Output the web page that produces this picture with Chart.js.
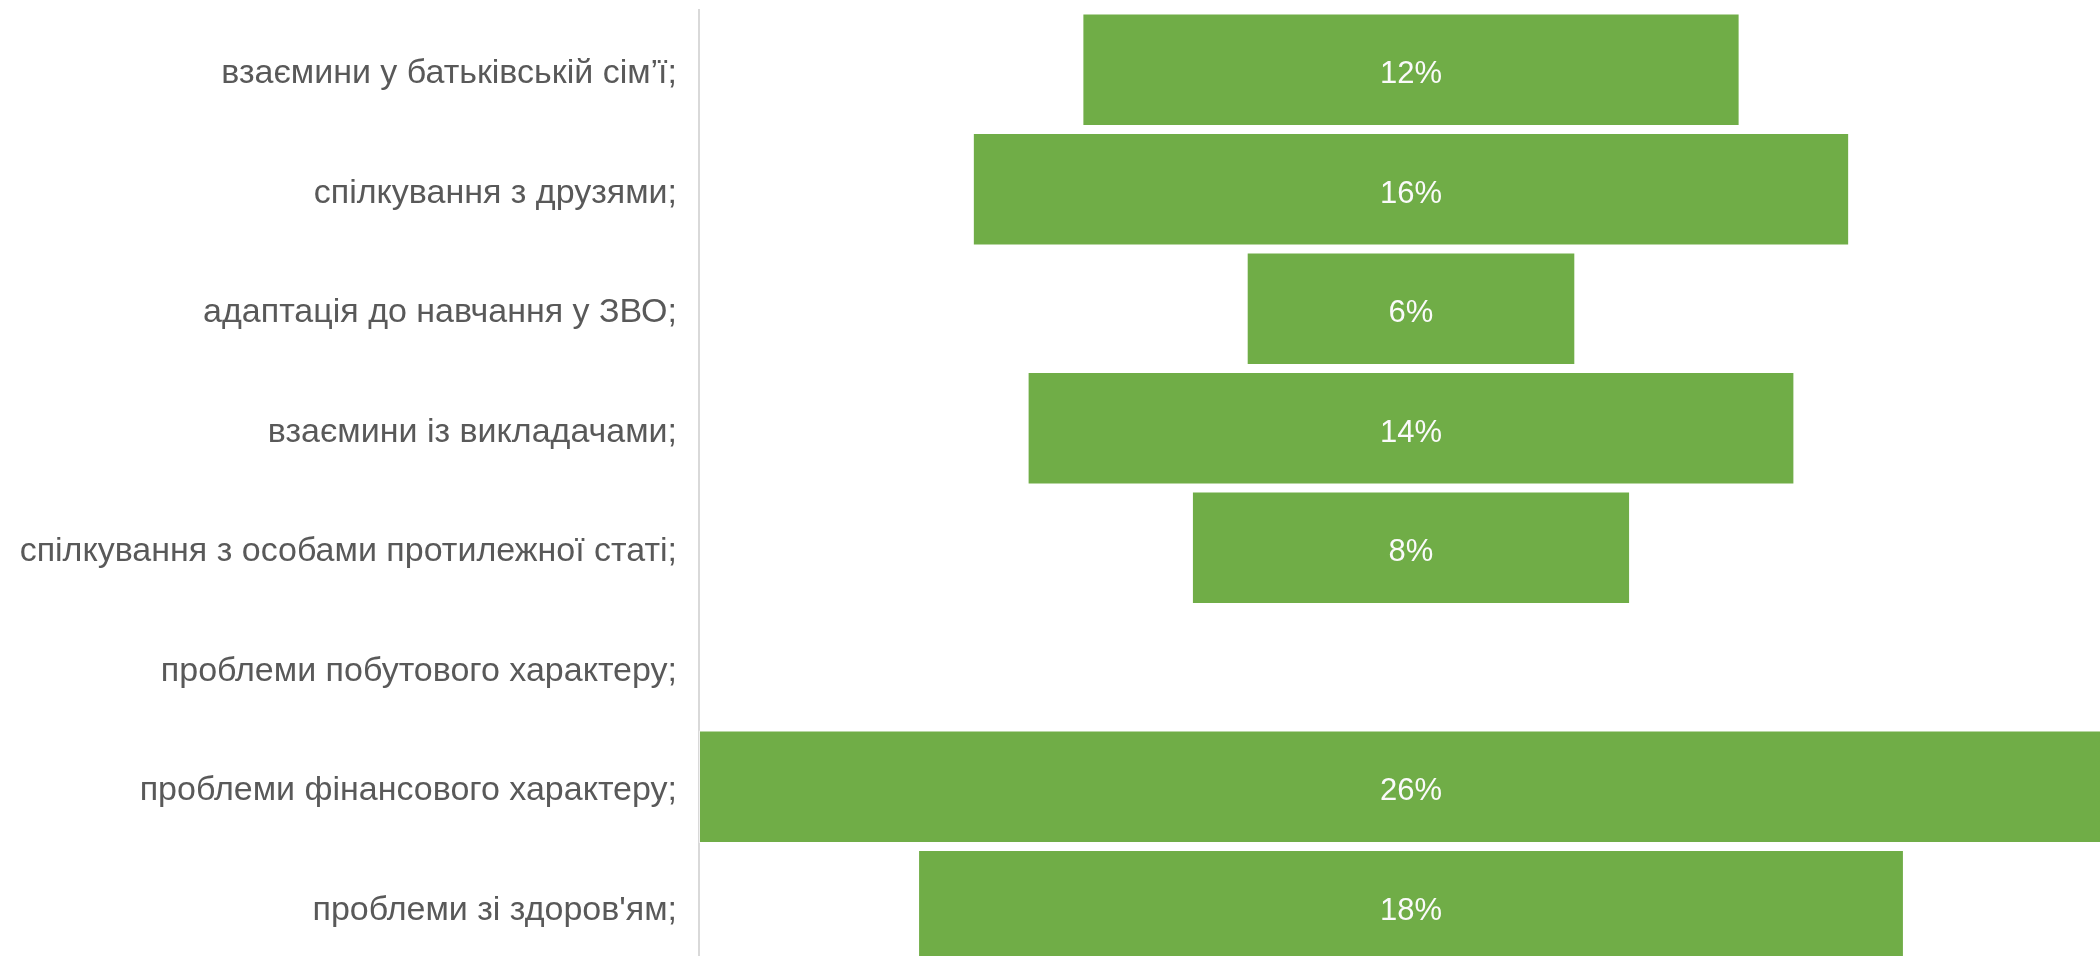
<!DOCTYPE html>
<html>
<head>
<meta charset="utf-8">
<script src="https://cdn.jsdelivr.net/npm/chart.js@4"></script>
<style>
  html, body { margin: 0; padding: 0; background: #fff; overflow: hidden; }
  #wrap { width: 2123px; height: 966px; }
</style>
</head>
<body>
<div id="wrap"><canvas id="funnel"></canvas></div>
<script>
// funnel chart data (percent)
const categories = [
  'взаємини у батьківській сім’ї;',
  'спілкування з друзями;',
  'адаптація до навчання у ЗВО;',
  'взаємини із викладачами;',
  'спілкування з особами протилежної статі;',
  'проблеми побутового характеру;',
  'проблеми фінансового характеру;',
  'проблеми зі здоров\'ям;'
];
const shares = [12, 16, 6, 14, 8, 0, 26, 18];
const barColor = '#70AD47';

// centre each bar around zero so it looks like a funnel
const spans = shares.map(v => [-v / 2, v / 2]);

const centerLabels = {
  id: 'centerLabels',
  afterDatasetsDraw(chart) {
    const c = chart.ctx;
    const meta = chart.getDatasetMeta(0);
    c.save();
    c.fillStyle = '#fafafa';
    c.font = '31px "Liberation Sans", sans-serif';
    c.textAlign = 'center';
    c.textBaseline = 'middle';
    meta.data.forEach((bar, i) => {
      if (!shares[i]) return;
      c.fillText(shares[i] + '%', (bar.base + bar.x) / 2, bar.y + 5);
    });
    c.restore();
  }
};

new Chart(document.getElementById('funnel'), {
  type: 'bar',
  data: {
    labels: categories,
    datasets: [{
      data: spans,
      backgroundColor: barColor,
      borderColor: 'rgba(255,255,255,0.6)',
      borderWidth: 1,
      borderSkipped: false,
      categoryPercentage: 0.943,
      barPercentage: 1
    }]
  },
  options: {
    indexAxis: 'y',
    responsive: true,
    maintainAspectRatio: false,
    animation: false,
    layout: { padding: { top: 10, left: 0, right: 0, bottom: 0 } },
    plugins: { legend: { display: false }, tooltip: { enabled: false } },
    scales: {
      x: { display: false, min: -13, max: 13 },
      y: {
        afterFit(scale) {
          scale.width = 699;
          scale.paddingTop = 0;
          scale.paddingBottom = 0;
        },
        grid: { display: false, drawTicks: false },
        border: { display: true, color: '#d9d9d9', width: 2 },
        ticks: {
          color: '#595959',
          padding: 22,
          labelOffset: 4,
          font: { family: '"Liberation Sans", sans-serif', size: 34 }
        }
      }
    }
  },
  plugins: [centerLabels]
});
</script>
</body>
</html>
